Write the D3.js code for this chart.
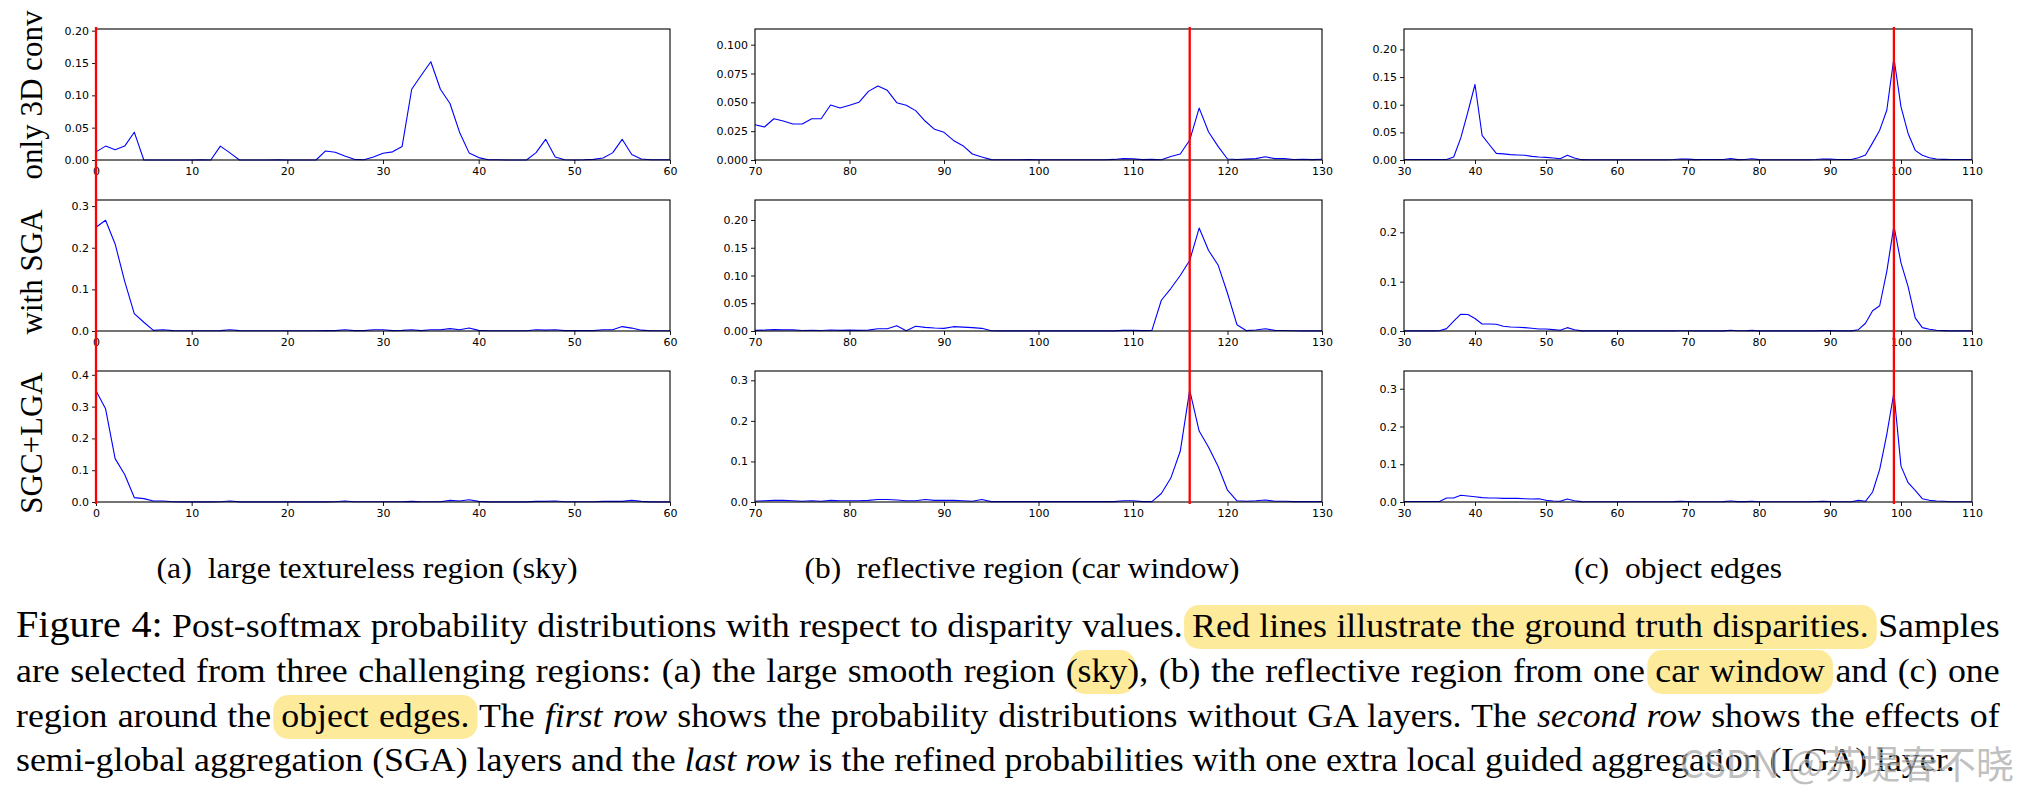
<!DOCTYPE html>
<html>
<head>
<meta charset="utf-8">
<title>Post-softmax probability distributions</title>
<script src="https://d3js.org/d3.v7.min.js"></script>
<style>
  body { margin: 0; background: #fff; }
  svg { display: block; }
</style>
</head>
<body>
<svg id="fig"></svg>
<script>
// ---- data ----
// disparity axes: first disparity, last disparity, tick values
const xStarts = [0, 70, 30];
const xEnds = [60, 130, 110];
const xTickVals = [
  [0, 10, 20, 30, 40, 50, 60],
  [70, 80, 90, 100, 110, 120, 130],
  [30, 40, 50, 60, 70, 80, 90, 100, 110]
];
// ground-truth disparity (red line) per column
const gtDisparity = [0, 116, 99];

const rowLabels = ['only 3D conv', 'with SGA', 'SGC+LGA'];
const subCaptions = ['(a)\u00a0\u00a0large textureless region (sky)',
                     '(b)\u00a0\u00a0reflective region (car window)',
                     '(c)\u00a0\u00a0object edges'];

// (a) sky, disparity 0..60
const skyConv = [0.0126, 0.0215, 0.016, 0.0215, 0.043, 0, 0, 0, 0, 0, 0, 0.0003, 0, 0.0215, 0.011, 0,
  0, 0, 0, 0.0003, 0, 0, 0, 0, 0.014, 0.012, 0.0063, 0.001, 0.0005, 0.0047, 0.0105, 0.0126,
  0.021, 0.1094, 0.131, 0.152, 0.1094, 0.0874, 0.043, 0.011, 0.0037, 0.0005, 0.0003, 0, 0, 0,
  0.0115, 0.032, 0.0047, 0.0005, 0, 0.0003, 0.001, 0.003, 0.011, 0.032, 0.0084, 0.0016, 0.0005, 0.0003, 0.0003];
const skySga = [0.249, 0.266, 0.209, 0.119, 0.0416, 0.021, 0.0016, 0.003, 0.001, 0.0005, 0.0005, 0.0005,
  0.0005, 0.001, 0.003, 0.001, 0.0005, 0.0005, 0.0005, 0.0005, 0.0005, 0.0005, 0.0005, 0.0005, 0.001,
  0.0008, 0.003, 0.0008, 0.0008, 0.003, 0.003, 0.001, 0.0015, 0.003, 0.001, 0.003, 0.003, 0.0057,
  0.003, 0.0073, 0.0015, 0.0005, 0.0005, 0.0005, 0.0005, 0.0005, 0.003, 0.002, 0.003, 0.0008, 0.0008,
  0.0008, 0.0008, 0.003, 0.003, 0.0106, 0.007, 0.002, 0.0005, 0.0005, 0.0005];
const skyLga = [0.35, 0.293, 0.1365, 0.0864, 0.0139, 0.0107, 0.003, 0.003, 0.001, 0.0005, 0.0005, 0.0005,
  0.0005, 0.001, 0.003, 0.0005, 0.0005, 0.0005, 0.0005, 0.0005, 0.0005, 0.0005, 0.0005, 0.0005, 0.0005,
  0.001, 0.003, 0.0008, 0.0008, 0.0008, 0.0008, 0.0008, 0.0008, 0.002, 0.0008, 0.0008, 0.0008, 0.005,
  0.003, 0.007, 0.002, 0.0005, 0.0005, 0.0005, 0.0005, 0.0005, 0.002, 0.002, 0.003, 0.0008, 0.0008,
  0.0008, 0.0008, 0.002, 0.002, 0.002, 0.005, 0.002, 0.0005, 0.0005, 0.0005];

// (b) car window, disparity 70..130
const carConv = [0.0306, 0.0286, 0.0358, 0.0338, 0.0312, 0.0312, 0.0358, 0.0358, 0.0477, 0.0451, 0.0474,
  0.050, 0.0595, 0.0642, 0.0604, 0.0497, 0.0474, 0.0428, 0.0338, 0.0266, 0.024, 0.017, 0.0124, 0.0052,
  0.0026, 0.0003, 0.0002, 0.0002, 0.0002, 0.0004, 0.0002, 0.0002, 0.0002, 0.0002, 0.0002, 0.0002, 0.0002,
  0.0002, 0.0005, 0.0012, 0.001, 0.0003, 0.0005, 0.0002, 0.003, 0.0052, 0.0173, 0.045, 0.0243, 0.0118,
  0.0009, 0.0004, 0.0008, 0.0012, 0.0028, 0.0012, 0.0012, 0.0004, 0.0007, 0.0003, 0.0006];
const carSga = [0.0012, 0.0015, 0.0024, 0.002, 0.002, 0.0008, 0.0012, 0.0008, 0.0018, 0.0012, 0.0015,
  0.0012, 0.0015, 0.004, 0.004, 0.0096, 0.0005, 0.0085, 0.0066, 0.0054, 0.0048, 0.0078, 0.007, 0.006,
  0.0048, 0.0005, 0.0003, 0.0003, 0.0003, 0.0003, 0.0003, 0.0003, 0.0003, 0.0003, 0.0003, 0.0003, 0.0003,
  0.0003, 0.0003, 0.0012, 0.0012, 0.0006, 0.0012, 0.0554, 0.0765, 0.100, 0.127, 0.1855, 0.145, 0.119,
  0.068, 0.0114, 0.0006, 0.0018, 0.004, 0.0012, 0.0008, 0.0004, 0.0003, 0.0003, 0.0003];
const carLga = [0.002, 0.003, 0.004, 0.004, 0.003, 0.002, 0.003, 0.002, 0.004, 0.003, 0.003, 0.003, 0.004,
  0.006, 0.006, 0.005, 0.003, 0.003, 0.006, 0.004, 0.004, 0.004, 0.003, 0.002, 0.006, 0.001, 0.001, 0.001,
  0.001, 0.001, 0.001, 0.001, 0.001, 0.001, 0.001, 0.001, 0.001, 0.001, 0.001, 0.003, 0.003, 0.001, 0.001,
  0.021, 0.059, 0.125, 0.276, 0.175, 0.135, 0.088, 0.029, 0.003, 0.002, 0.003, 0.005, 0.002, 0.002, 0.001,
  0.001, 0.001, 0.001];

// (c) object edges, disparity 30..110
const edgeConv = [0.0008, 0.0008, 0.0008, 0.0008, 0.0008, 0.0008, 0.0008, 0.0054, 0.040, 0.087, 0.1366,
  0.0447, 0.028, 0.012, 0.011, 0.0097, 0.009, 0.0085, 0.0066, 0.0054, 0.0048, 0.0036, 0.0024, 0.0085,
  0.0036, 0.0006, 0.0005, 0.0005, 0.0005, 0.0005, 0.0005, 0.0005, 0.0005, 0.0005, 0.0005, 0.0005, 0.0005,
  0.0005, 0.0008, 0.0018, 0.0015, 0.0006, 0.0008, 0.0008, 0.0008, 0.0008, 0.0025, 0.0006, 0.0008, 0.0024,
  0.0006, 0.0005, 0.0005, 0.0005, 0.0005, 0.0005, 0.0005, 0.0005, 0.001, 0.0018, 0.0015, 0.0008, 0.0008,
  0.001, 0.0042, 0.009, 0.031, 0.054, 0.090, 0.185, 0.096, 0.048, 0.0175, 0.0085, 0.0042, 0.0018, 0.0012,
  0.0008, 0.0008, 0.0008, 0.0008];
const edgeSga = [0.0002, 0.0002, 0.0002, 0.0002, 0.0002, 0.0005, 0.0048, 0.0198, 0.034, 0.0334, 0.0253,
  0.0143, 0.0143, 0.0137, 0.0096, 0.0082, 0.0075, 0.0068, 0.0055, 0.0041, 0.004, 0.0027, 0.0014, 0.0068,
  0.0027, 0.0003, 0.0002, 0.0002, 0.0002, 0.0002, 0.0002, 0.0002, 0.0002, 0.0002, 0.0002, 0.0002, 0.0002,
  0.0002, 0.0002, 0.0006, 0.0006, 0.0002, 0.0002, 0.0002, 0.0002, 0.0002, 0.0015, 0.0004, 0.0004, 0.0012,
  0.0002, 0.0002, 0.0002, 0.0002, 0.0002, 0.0002, 0.0002, 0.0002, 0.0002, 0.0008, 0.0008, 0.0002, 0.0002,
  0.0002, 0.0027, 0.0157, 0.041, 0.0512, 0.121, 0.213, 0.138, 0.090, 0.0266, 0.0068, 0.0034, 0.0014,
  0.0007, 0.0002, 0.0002, 0.0002, 0.0002];
const edgeLga = [0.0015, 0.0015, 0.0015, 0.0015, 0.0015, 0.0015, 0.0106, 0.0106, 0.0177, 0.016, 0.0141,
  0.0115, 0.0106, 0.0106, 0.0097, 0.0097, 0.0097, 0.0088, 0.008, 0.0088, 0.0044, 0.0026, 0.0018, 0.008,
  0.0035, 0.0009, 0.0008, 0.0008, 0.0008, 0.0008, 0.0008, 0.0008, 0.0008, 0.0008, 0.0008, 0.0008, 0.0008,
  0.0008, 0.001, 0.0018, 0.0015, 0.0008, 0.0008, 0.0008, 0.0008, 0.001, 0.0026, 0.001, 0.001, 0.0018,
  0.0008, 0.0008, 0.0008, 0.0008, 0.0008, 0.0008, 0.0008, 0.0008, 0.0012, 0.0018, 0.0015, 0.0008, 0.0008,
  0.0008, 0.0044, 0.0018, 0.0265, 0.0865, 0.179, 0.29, 0.095, 0.051, 0.031, 0.0088, 0.0044, 0.0026,
  0.0018, 0.0008, 0.0008, 0.0008, 0.0008];

// y axis top and ticks per panel [column][row]
const yTops = [[0.2026, 0.3146, 0.412], [0.1136, 0.236, 0.323], [0.237, 0.2655, 0.347]];
const yTickVals = [
  [[0, 0.05, 0.10, 0.15, 0.20], [0, 0.1, 0.2, 0.3], [0, 0.1, 0.2, 0.3, 0.4]],
  [[0, 0.025, 0.050, 0.075, 0.100], [0, 0.05, 0.10, 0.15, 0.20], [0, 0.1, 0.2, 0.3]],
  [[0, 0.05, 0.10, 0.15, 0.20], [0, 0.1, 0.2], [0, 0.1, 0.2, 0.3]]
];
const yTickFmt = [['.2f', '.1f', '.1f'], ['.3f', '.2f', '.1f'], ['.2f', '.1f', '.1f']];

const series = [[skyConv, skySga, skyLga], [carConv, carSga, carLga], [edgeConv, edgeSga, edgeLga]];

// caption lines: t = text, h = highlighted, i = italic, fig = figure label
const captionLines = [
  [{t: 'Figure 4:', fig: true}, {t: ' Post-softmax probability distributions with respect to disparity values. '},
   {t: 'Red lines illustrate the ground truth disparities.', h: true}, {t: ' Samples'}],
  [{t: 'are selected from three challenging regions: (a) the large smooth region ('}, {t: 'sky', h: true},
   {t: '), (b) the reflective region from one '}, {t: 'car window', h: true}, {t: ' and (c) one'}],
  [{t: 'region around the '}, {t: 'object edges.', h: true}, {t: ' The '}, {t: 'first row', i: true},
   {t: ' shows the probability distributions without GA layers. The '}, {t: 'second row', i: true},
   {t: ' shows the effects of'}],
  [{t: 'semi-global aggregation (SGA) layers and the '}, {t: 'last row', i: true},
   {t: ' is the refined probabilities with one extra local guided aggregation (LGA) layer.'}]
];

// ---- layout ----
const W = 2027, H = 799;
const colX = [[96, 670], [755, 1322], [1404, 1972]];
const rowY = [[29, 160], [200, 331], [371, 502]];
const rowLabelY = [95, 272, 443];
const subCapX = [367, 1022, 1678];
const subCapW = [421, 435, 208];

const svg = d3.select('#fig').attr('width', W).attr('height', H);
svg.append('rect').attr('width', W).attr('height', H).attr('fill', '#fff');

colX.forEach((cx, c) => {
  const x = d3.scaleLinear().domain([xStarts[c], xEnds[c]]).range(cx);
  rowY.forEach((ry, r) => {
    const y = d3.scaleLinear().domain([0, yTops[c][r]]).range([ry[1], ry[0]]);
    const g = svg.append('g');

    const line = d3.line()
      .x((v, i) => x(xStarts[c] + i))
      .y(v => y(v));
    g.append('path')
      .datum(series[c][r])
      .attr('d', line)
      .attr('fill', 'none')
      .attr('stroke', '#0000ff')
      .attr('stroke-width', 1.1)
      .attr('stroke-linejoin', 'round');

    const xa = g.append('g')
      .attr('transform', `translate(0,${ry[1]})`)
      .call(d3.axisBottom(x).tickValues(xTickVals[c]).tickFormat(d3.format('d')).tickSize(4).tickPadding(3));
    const ya = g.append('g')
      .attr('transform', `translate(${cx[0]},0)`)
      .call(d3.axisLeft(y).tickValues(yTickVals[c][r]).tickFormat(d3.format(yTickFmt[c][r])).tickSize(4).tickPadding(3));
    [xa, ya].forEach(a => {
      a.select('.domain').remove();
      a.attr('font-family', 'DejaVu Sans').attr('font-size', 11);
      a.selectAll('line').attr('stroke', '#000').attr('stroke-width', 0.9);
      a.selectAll('text').attr('fill', '#000');
    });

    g.append('rect')
      .attr('x', cx[0]).attr('y', ry[0])
      .attr('width', cx[1] - cx[0]).attr('height', ry[1] - ry[0])
      .attr('fill', 'none').attr('stroke', '#000').attr('stroke-width', 1.1);
  });

  // ground truth line across the three rows
  svg.append('line')
    .attr('x1', x(gtDisparity[c])).attr('x2', x(gtDisparity[c]))
    .attr('y1', rowY[0][0] - 2).attr('y2', rowY[2][1] + 2)
    .attr('stroke', '#ff0000').attr('stroke-width', 2.3);

  svg.append('text')
    .attr('x', subCapX[c] - subCapW[c] / 2).attr('y', 578)
    .attr('font-family', 'Liberation Serif').attr('font-size', 29)
    .attr('textLength', subCapW[c])
    .attr('lengthAdjust', 'spacingAndGlyphs')
    .text(subCaptions[c]);
});

rowLabels.forEach((lab, r) => {
  svg.append('text')
    .attr('transform', `translate(42,${rowLabelY[r]}) rotate(-90)`)
    .attr('text-anchor', 'middle')
    .attr('font-family', 'Liberation Serif').attr('font-size', 31)
    .text(lab);
});

// ---- caption ----
// each line is laid out at its natural size, justified with word spacing
// and then scaled to the measured width of the line in the picture
const capLeft = 16, capRight = 2000, lastLineRight = 1955;
const baselines = [637, 682, 727, 771];

const lines = captionLines.map((segs, li) => {
  const g = svg.append('g');
  const hl = g.append('g');
  const t = g.append('text')
    .attr('x', 0).attr('y', baselines[li])
    .attr('font-family', 'Liberation Serif').attr('font-size', 33)
    .attr('fill', '#000');
  const spans = segs.map(s => {
    const sp = t.append('tspan').text(s.t);
    if (s.i) sp.attr('font-style', 'italic');
    if (s.fig) sp.attr('font-size', 37);
    return {sp, s};
  });
  const nSpaces = segs.map(s => s.t).join('').split(' ').length - 1;
  return {g, hl, t, spans, nSpaces, natural: t.node().getComputedTextLength()};
});

const last = lines[lines.length - 1];
const stretch = (lastLineRight - capLeft) / last.natural;

lines.forEach((L, li) => {
  let target = lastLineRight - capLeft;
  if (li < lines.length - 1) {
    target = capRight - capLeft;
    const ws = (target / stretch - L.natural) / L.nSpaces;
    L.t.style('word-spacing', ws + 'px');
  }
  const len = L.t.node().getComputedTextLength();
  const k = target / len;
  L.g.attr('transform', `translate(${capLeft},0) scale(${k},1)`);

  L.spans.filter(d => d.s.h).forEach(d => {
    const n = d.sp.node();
    const x0 = n.getStartPositionOfChar(0).x;
    const x1 = n.getEndPositionOfChar(d.s.t.length - 1).x;
    const pad = 8 / k;
    L.hl.append('rect')
      .attr('x', x0 - pad).attr('y', baselines[li] - 32)
      .attr('width', x1 - x0 + 2 * pad).attr('height', 44)
      .attr('rx', 15 / k).attr('ry', 15)
      .attr('fill', '#fdeb9b');
  });
});

// watermark
svg.append('text')
  .attr('x', 1680).attr('y', 778)
  .attr('font-family', 'Noto Sans CJK SC').attr('font-size', 38)
  .attr('fill', 'rgba(150,150,150,0.6)')
  .attr('stroke', 'rgba(255,255,255,0.6)').attr('stroke-width', 1.2)
  .attr('paint-order', 'stroke')
  .text('CSDN @苏堤春不晓');
</script>
</body>
</html>
